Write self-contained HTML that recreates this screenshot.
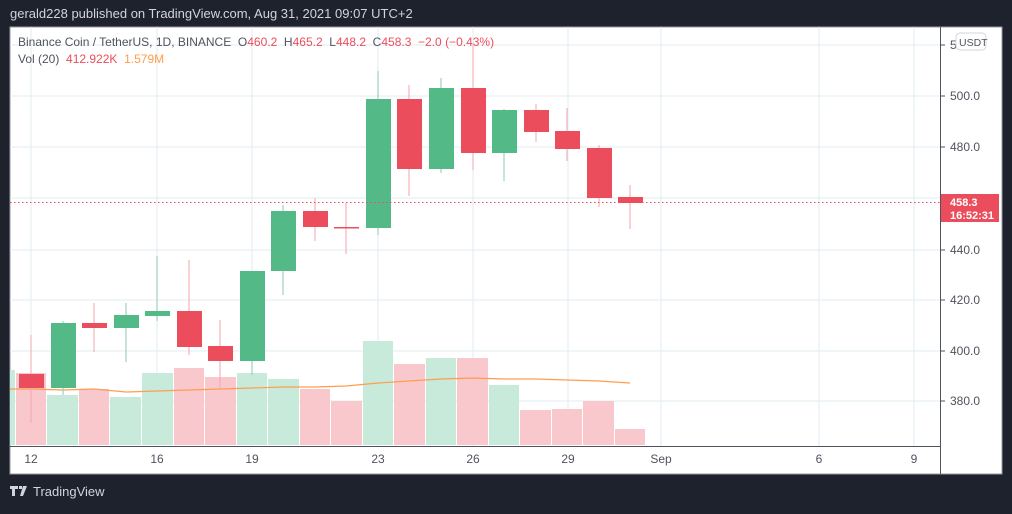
<!DOCTYPE html>
<html><head><meta charset="utf-8"><style>
body{margin:0;background:#1e222d;width:1012px;height:509px;overflow:hidden;font-family:"Liberation Sans",sans-serif}
</style></head><body>
<svg width="1012" height="509" xmlns="http://www.w3.org/2000/svg" font-family="Liberation Sans, sans-serif">
<rect width="1012" height="509" fill="#1e222d"/>
<text x="10" y="18" fill="#d1d4dc" font-size="13">gerald228 published on TradingView.com, Aug 31, 2021 09:07 UTC+2</text>
<rect x="10" y="27" width="992" height="447" fill="#fff" stroke="#9598a1" stroke-width="1"/>
<g stroke="#e1ecf2" stroke-width="1">
<line x1="31" y1="27" x2="31" y2="446"/><line x1="157" y1="27" x2="157" y2="446"/><line x1="252" y1="27" x2="252" y2="446"/><line x1="378" y1="27" x2="378" y2="446"/><line x1="473" y1="27" x2="473" y2="446"/><line x1="568" y1="27" x2="568" y2="446"/><line x1="661" y1="27" x2="661" y2="446"/><line x1="819" y1="27" x2="819" y2="446"/><line x1="914" y1="27" x2="914" y2="446"/>
<line x1="10" y1="45" x2="940" y2="45"/><line x1="10" y1="96" x2="940" y2="96"/><line x1="10" y1="147" x2="940" y2="147"/><line x1="10" y1="198" x2="940" y2="198"/><line x1="10" y1="250" x2="940" y2="250"/><line x1="10" y1="300" x2="940" y2="300"/><line x1="10" y1="351" x2="940" y2="351"/><line x1="10" y1="401" x2="940" y2="401"/>
</g>
<g>
<rect x="10" y="370" width="5" height="75" fill="#c8eadb"/>
<rect x="16" y="373" width="30" height="72" fill="#f8c8cd"/>
<rect x="47" y="395" width="31" height="50" fill="#c8eadb"/>
<rect x="79" y="389" width="30" height="56" fill="#f8c8cd"/>
<rect x="110" y="397" width="31" height="48" fill="#c8eadb"/>
<rect x="142" y="373" width="31" height="72" fill="#c8eadb"/>
<rect x="174" y="368" width="30" height="77" fill="#f8c8cd"/>
<rect x="205" y="377" width="31" height="68" fill="#f8c8cd"/>
<rect x="237" y="373" width="30" height="72" fill="#c8eadb"/>
<rect x="268" y="379" width="31" height="66" fill="#c8eadb"/>
<rect x="300" y="389" width="30" height="56" fill="#f8c8cd"/>
<rect x="331" y="401" width="31" height="44" fill="#f8c8cd"/>
<rect x="363" y="341" width="30" height="104" fill="#c8eadb"/>
<rect x="394" y="364" width="31" height="81" fill="#f8c8cd"/>
<rect x="426" y="358" width="30" height="87" fill="#c8eadb"/>
<rect x="457" y="358" width="31" height="87" fill="#f8c8cd"/>
<rect x="489" y="385" width="30" height="60" fill="#c8eadb"/>
<rect x="520" y="410" width="31" height="35" fill="#f8c8cd"/>
<rect x="552" y="409" width="30" height="36" fill="#f8c8cd"/>
<rect x="583" y="401" width="31" height="44" fill="#f8c8cd"/>
<rect x="615" y="429" width="30" height="16" fill="#f8c8cd"/>
</g>
<polyline fill="none" stroke="#ff9d4f" stroke-width="1.2" points="10,389 31,389 63,390 94,389 126,392 157,391 189,390 220,389 252,388 283,387 315,387 346,386 378,383 409,381 441,379 473,378 504,379 536,379 567,380 599,381 630,383"/>
<g stroke-width="1">
<line x1="31" y1="335" x2="31" y2="423" stroke="#f5a6ae"/><rect x="19" y="374" width="25" height="14" fill="#eb4d5c"/>
<line x1="63" y1="321" x2="63" y2="395" stroke="#8cc7b4"/><rect x="51" y="323" width="25" height="65" fill="#53b987"/>
<line x1="94" y1="303" x2="94" y2="352" stroke="#f5a6ae"/><rect x="82" y="323" width="25" height="5" fill="#eb4d5c"/>
<line x1="126" y1="303" x2="126" y2="362" stroke="#8cc7b4"/><rect x="114" y="315" width="25" height="13" fill="#53b987"/>
<line x1="157" y1="256" x2="157" y2="321" stroke="#8cc7b4"/><rect x="145" y="311" width="25" height="5" fill="#53b987"/>
<line x1="189" y1="260" x2="189" y2="355" stroke="#f5a6ae"/><rect x="177" y="311" width="25" height="36" fill="#eb4d5c"/>
<line x1="220" y1="320" x2="220" y2="388" stroke="#f5a6ae"/><rect x="208" y="346" width="25" height="15" fill="#eb4d5c"/>
<line x1="252" y1="271" x2="252" y2="375" stroke="#8cc7b4"/><rect x="240" y="271" width="25" height="90" fill="#53b987"/>
<line x1="283" y1="205" x2="283" y2="295" stroke="#8cc7b4"/><rect x="271" y="211" width="25" height="60" fill="#53b987"/>
<line x1="315" y1="198" x2="315" y2="241" stroke="#f5a6ae"/><rect x="303" y="211" width="25" height="16" fill="#eb4d5c"/>
<line x1="346" y1="203" x2="346" y2="254" stroke="#f5a6ae"/><rect x="334" y="227" width="25" height="1.5" fill="#eb4d5c"/>
<line x1="378" y1="71" x2="378" y2="235" stroke="#8cc7b4"/><rect x="366" y="99" width="25" height="129" fill="#53b987"/>
<line x1="409" y1="85" x2="409" y2="196" stroke="#f5a6ae"/><rect x="397" y="99" width="25" height="70" fill="#eb4d5c"/>
<line x1="441" y1="78" x2="441" y2="173" stroke="#8cc7b4"/><rect x="429" y="88" width="25" height="81" fill="#53b987"/>
<line x1="473" y1="45" x2="473" y2="170" stroke="#f5a6ae"/><rect x="461" y="88" width="25" height="65" fill="#eb4d5c"/>
<line x1="504" y1="109" x2="504" y2="181" stroke="#8cc7b4"/><rect x="492" y="110" width="25" height="43" fill="#53b987"/>
<line x1="536" y1="104" x2="536" y2="142" stroke="#f5a6ae"/><rect x="524" y="110" width="25" height="22" fill="#eb4d5c"/>
<line x1="567" y1="108" x2="567" y2="161" stroke="#f5a6ae"/><rect x="555" y="131" width="25" height="18" fill="#eb4d5c"/>
<line x1="599" y1="145" x2="599" y2="207" stroke="#f5a6ae"/><rect x="587" y="148" width="25" height="50" fill="#eb4d5c"/>
<line x1="630" y1="185" x2="630" y2="229" stroke="#f5a6ae"/><rect x="618" y="197" width="25" height="6" fill="#eb4d5c"/>
</g>
<line x1="10" y1="202.5" x2="940" y2="202.5" stroke="#eb4d5c" stroke-dasharray="1.5,2.5"/>
<line x1="940.5" y1="27" x2="940.5" y2="474" stroke="#50535e"/>
<line x1="10" y1="446.5" x2="940" y2="446.5" stroke="#50535e"/>
<g fill="#50535e" font-size="12">
<text x="950" y="49">5</text>
<text x="950" y="100">500.0</text><text x="950" y="151">480.0</text><text x="950" y="254">440.0</text><text x="950" y="304">420.0</text><text x="950" y="355">400.0</text><text x="950" y="405">380.0</text>
</g>
<g stroke="#50535e"><line x1="940" y1="45" x2="945" y2="45"/><line x1="940" y1="96" x2="945" y2="96"/><line x1="940" y1="147" x2="945" y2="147"/><line x1="940" y1="250" x2="945" y2="250"/><line x1="940" y1="300" x2="945" y2="300"/><line x1="940" y1="351" x2="945" y2="351"/><line x1="940" y1="401" x2="945" y2="401"/></g>
<rect x="956" y="33" width="30" height="17" rx="4" fill="#fff" stroke="#d1d4dc"/>
<text x="959" y="46" fill="#50535e" font-size="10.5">USDT</text>
<rect x="941" y="194" width="58" height="28" fill="#eb4d5c"/>
<text x="950" y="206" fill="#fff" font-size="11" font-weight="bold">458.3</text>
<text x="950" y="219" fill="#fff" font-size="11" font-weight="bold">16:52:31</text>
<g fill="#50535e" font-size="12" text-anchor="middle">
<text x="31" y="463">12</text><text x="157" y="463">16</text><text x="252" y="463">19</text><text x="378" y="463">23</text><text x="473" y="463">26</text><text x="568" y="463">29</text><text x="661" y="463">Sep</text><text x="819" y="463">6</text><text x="914" y="463">9</text>
</g>
<text x="18" y="46" font-size="12" fill="#50535e" xml:space="preserve">Binance Coin / TetherUS, 1D, BINANCE  O<tspan fill="#eb4d5c">460.2</tspan>  H<tspan fill="#eb4d5c">465.2</tspan>  L<tspan fill="#eb4d5c">448.2</tspan>  C<tspan fill="#eb4d5c">458.3  −2.0 (−0.43%)</tspan></text>
<text x="18" y="63" font-size="12" fill="#50535e" xml:space="preserve">Vol (20)  <tspan fill="#eb4d5c">412.922K</tspan>  <tspan fill="#ff9d4f">1.579M</tspan></text>
<path d="M10 486h8v3h-3v7h-3v-7h-2z M19 486h3v3h-3z M23 486h4l-4 10h-3z" fill="#d1d4dc"/>
<text x="33" y="496" fill="#d1d4dc" font-size="13">TradingView</text>
</svg>
</body></html>
